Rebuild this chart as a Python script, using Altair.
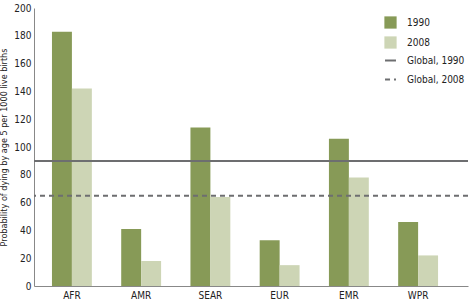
import altair as alt
import pandas as pd

regions = ["AFR", "AMR", "SEAR", "EUR", "EMR", "WPR"]
v1990 = [183, 41, 114, 33, 106, 46]
v2008 = [142, 18, 64, 15, 78, 22]
global_labels = ["Global, 1990", "Global, 2008"]
global_values = [90, 65]
y_ticks = [0, 20, 40, 60, 80, 100, 120, 140, 160, 180, 200]

FONT = "'DejaVu Sans Condensed', 'Liberation Sans Narrow', 'Roboto Condensed', 'Arial Narrow', sans-serif"
TXT = "#222222"

bars = pd.DataFrame(
    [{"region": r, "year": "1990", "value": a} for r, a in zip(regions, v1990)]
    + [{"region": r, "year": "2008", "value": b} for r, b in zip(regions, v2008)]
)
glob = pd.DataFrame({"series": global_labels, "value": global_values})

yscale = alt.Scale(domain=[0, 200], nice=False)
yaxis = alt.Axis(values=y_ticks, grid=False, ticks=False,
                 labelOverlap=False, labelPadding=3, domainColor="#888888",
                 labelFont=FONT, labelFontSize=10, labelColor=TXT,
                 titleFont=FONT, titleFontSize=9, titleFontWeight="normal",
                 titleColor=TXT, titlePadding=5)
ytitle = "Probability of dying by age 5 per 1000 live births"

bar_layer = alt.Chart(bars).mark_bar().encode(
    x=alt.X("region:N", sort=regions, title=None,
            scale=alt.Scale(paddingInner=0.424, paddingOuter=0.346, align=0.375),
            axis=alt.Axis(ticks=False, labelAngle=0, labelPadding=4, domainColor="#888888",
                          labelFont=FONT, labelFontSize=10, labelColor=TXT)),
    xOffset=alt.XOffset("year:N"),
    y=alt.Y("value:Q", scale=yscale, title=ytitle, axis=yaxis),
    color=alt.Color("year:N",
                    scale=alt.Scale(domain=["1990", "2008"], range=["#879a57", "#cdd5b5"]),
                    legend=alt.Legend(title=None, orient="none", legendX=350, legendY=8,
                                      symbolType="square", symbolSize=150, symbolStrokeWidth=0,
                                      labelFont=FONT, labelFontSize=10, labelColor=TXT,
                                      rowPadding=7, labelOffset=10, padding=0)),
)

rule_layer = alt.Chart(glob).mark_rule(color="#6d6e70", strokeWidth=2).encode(
    y=alt.Y("value:Q", scale=yscale, title=ytitle, axis=yaxis),
    strokeDash=alt.StrokeDash("series:N",
                              scale=alt.Scale(domain=global_labels, range=[[1, 0], [5, 4]]),
                              legend=alt.Legend(title=None, orient="none", legendX=350, legendY=46,
                                                symbolType="stroke", symbolSize=120,
                                                symbolStrokeColor="#6d6e70", symbolStrokeWidth=2,
                                                labelFont=FONT, labelFontSize=10, labelColor=TXT,
                                                rowPadding=7, labelOffset=10, padding=0)),
)

chart = alt.layer(bar_layer, rule_layer).properties(
    width=434, height=278,
    autosize=alt.AutoSizeParams(type="none"),
    padding={"left": 34, "top": 8, "right": 2, "bottom": 15},
).configure(background="white").configure_view(stroke=None).configure_axisY(labelOverlap=False)

chart.save("out.html", embed_options={"renderer": "svg", "actions": False})
